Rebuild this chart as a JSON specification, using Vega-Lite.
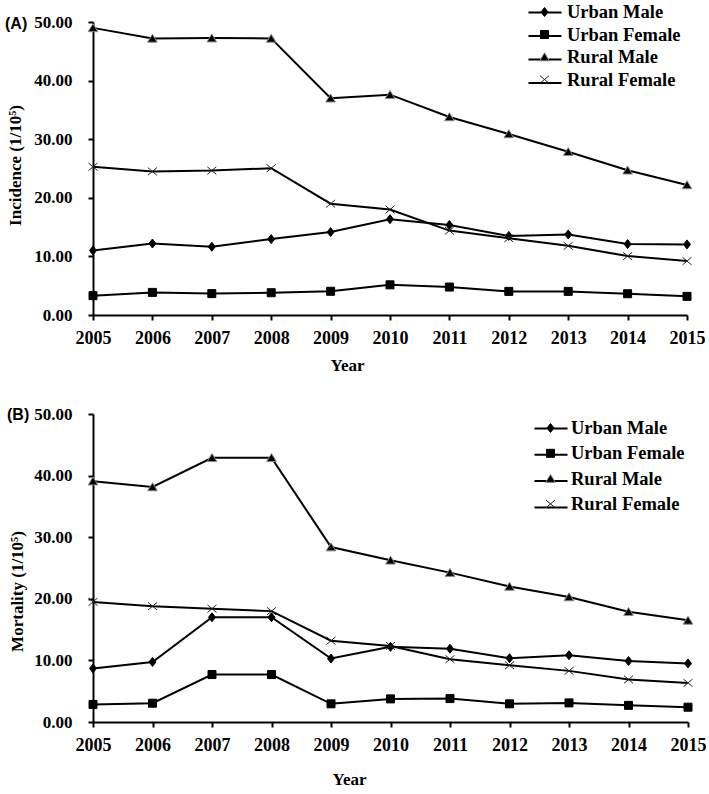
{
  "$schema": "https://vega.github.io/schema/vega-lite/v6.json",
  "background": "white",
  "padding": {"left": 5, "top": 1, "right": 0, "bottom": 0},
  "spacing": 32,
  "resolve": {"scale": {"shape": "independent", "stroke": "independent", "color": "independent"}, "legend": {"shape": "independent", "stroke": "independent", "color": "independent"}},
  "config": {
    "view": {"stroke": null},
    "axis": {
      "domainColor": "black", "domainWidth": 2, "tickColor": "black", "tickWidth": 2, "tickSize": 5,
      "grid": false, "labelColor": "black", "titleColor": "black",
      "labelFont": "Liberation Serif", "labelFontWeight": "bold",
      "titleFont": "Liberation Serif", "titleFontWeight": "bold", "titleFontSize": 17
    },
    "legend": {
      "orient": "none", "title": null, "padding": 0, "symbolSize": 400, "symbolOffset": 6, "labelOffset": 12,
      "labelFont": "Liberation Serif", "labelFontSize": 18.5, "labelFontWeight": "bold", "labelColor": "black",
      "symbolStrokeColor": "black", "symbolFillColor": "black", "symbolStrokeWidth": 1, "symbolOpacity": 1
    }
  },
  "datasets": {
    "incidence": [
      {"year": 2005, "group": "Urban Male", "value": 11.0},
      {"year": 2006, "group": "Urban Male", "value": 12.2},
      {"year": 2007, "group": "Urban Male", "value": 11.65},
      {"year": 2008, "group": "Urban Male", "value": 12.95},
      {"year": 2009, "group": "Urban Male", "value": 14.15},
      {"year": 2010, "group": "Urban Male", "value": 16.35},
      {"year": 2011, "group": "Urban Male", "value": 15.35},
      {"year": 2012, "group": "Urban Male", "value": 13.5},
      {"year": 2013, "group": "Urban Male", "value": 13.75},
      {"year": 2014, "group": "Urban Male", "value": 12.1},
      {"year": 2015, "group": "Urban Male", "value": 12.05},
      {"year": 2005, "group": "Urban Female", "value": 3.3},
      {"year": 2006, "group": "Urban Female", "value": 3.86},
      {"year": 2007, "group": "Urban Female", "value": 3.65},
      {"year": 2008, "group": "Urban Female", "value": 3.8},
      {"year": 2009, "group": "Urban Female", "value": 4.05},
      {"year": 2010, "group": "Urban Female", "value": 5.15},
      {"year": 2011, "group": "Urban Female", "value": 4.77},
      {"year": 2012, "group": "Urban Female", "value": 4.03},
      {"year": 2013, "group": "Urban Female", "value": 4.03},
      {"year": 2014, "group": "Urban Female", "value": 3.63},
      {"year": 2015, "group": "Urban Female", "value": 3.18},
      {"year": 2005, "group": "Rural Male", "value": 49.0},
      {"year": 2006, "group": "Rural Male", "value": 47.2},
      {"year": 2007, "group": "Rural Male", "value": 47.25},
      {"year": 2008, "group": "Rural Male", "value": 47.2},
      {"year": 2009, "group": "Rural Male", "value": 37.0},
      {"year": 2010, "group": "Rural Male", "value": 37.6},
      {"year": 2011, "group": "Rural Male", "value": 33.8},
      {"year": 2012, "group": "Rural Male", "value": 30.9},
      {"year": 2013, "group": "Rural Male", "value": 27.85},
      {"year": 2014, "group": "Rural Male", "value": 24.7},
      {"year": 2015, "group": "Rural Male", "value": 22.2},
      {"year": 2005, "group": "Rural Female", "value": 25.3},
      {"year": 2006, "group": "Rural Female", "value": 24.5},
      {"year": 2007, "group": "Rural Female", "value": 24.65},
      {"year": 2008, "group": "Rural Female", "value": 25.05},
      {"year": 2009, "group": "Rural Female", "value": 19.0},
      {"year": 2010, "group": "Rural Female", "value": 18.0},
      {"year": 2011, "group": "Rural Female", "value": 14.4},
      {"year": 2012, "group": "Rural Female", "value": 13.1},
      {"year": 2013, "group": "Rural Female", "value": 11.8},
      {"year": 2014, "group": "Rural Female", "value": 10.05},
      {"year": 2015, "group": "Rural Female", "value": 9.2}
    ],
    "mortality": [
      {"year": 2005, "group": "Urban Male", "value": 8.7},
      {"year": 2006, "group": "Urban Male", "value": 9.75},
      {"year": 2007, "group": "Urban Male", "value": 17.0},
      {"year": 2008, "group": "Urban Male", "value": 17.0},
      {"year": 2009, "group": "Urban Male", "value": 10.3},
      {"year": 2010, "group": "Urban Male", "value": 12.2},
      {"year": 2011, "group": "Urban Male", "value": 11.9},
      {"year": 2012, "group": "Urban Male", "value": 10.35},
      {"year": 2013, "group": "Urban Male", "value": 10.85},
      {"year": 2014, "group": "Urban Male", "value": 9.9},
      {"year": 2015, "group": "Urban Male", "value": 9.5},
      {"year": 2005, "group": "Urban Female", "value": 2.85},
      {"year": 2006, "group": "Urban Female", "value": 3.05},
      {"year": 2007, "group": "Urban Female", "value": 7.7},
      {"year": 2008, "group": "Urban Female", "value": 7.7},
      {"year": 2009, "group": "Urban Female", "value": 2.95},
      {"year": 2010, "group": "Urban Female", "value": 3.75},
      {"year": 2011, "group": "Urban Female", "value": 3.8},
      {"year": 2012, "group": "Urban Female", "value": 2.95},
      {"year": 2013, "group": "Urban Female", "value": 3.1},
      {"year": 2014, "group": "Urban Female", "value": 2.7},
      {"year": 2015, "group": "Urban Female", "value": 2.4},
      {"year": 2005, "group": "Rural Male", "value": 39.1},
      {"year": 2006, "group": "Rural Male", "value": 38.15},
      {"year": 2007, "group": "Rural Male", "value": 42.9},
      {"year": 2008, "group": "Rural Male", "value": 42.9},
      {"year": 2009, "group": "Rural Male", "value": 28.4},
      {"year": 2010, "group": "Rural Male", "value": 26.25},
      {"year": 2011, "group": "Rural Male", "value": 24.25},
      {"year": 2012, "group": "Rural Male", "value": 22.0},
      {"year": 2013, "group": "Rural Male", "value": 20.3},
      {"year": 2014, "group": "Rural Male", "value": 17.9},
      {"year": 2015, "group": "Rural Male", "value": 16.5},
      {"year": 2005, "group": "Rural Female", "value": 19.5},
      {"year": 2006, "group": "Rural Female", "value": 18.8},
      {"year": 2007, "group": "Rural Female", "value": 18.4},
      {"year": 2008, "group": "Rural Female", "value": 18.0},
      {"year": 2009, "group": "Rural Female", "value": 13.2},
      {"year": 2010, "group": "Rural Female", "value": 12.35},
      {"year": 2011, "group": "Rural Female", "value": 10.2},
      {"year": 2012, "group": "Rural Female", "value": 9.2},
      {"year": 2013, "group": "Rural Female", "value": 8.3},
      {"year": 2014, "group": "Rural Female", "value": 6.9},
      {"year": 2015, "group": "Rural Female", "value": 6.35}
    ]
  },
  "vconcat": [
    {
      "data": {"name": "incidence"},
      "width": 594,
      "height": 293,
      "title": {"text": "(A)", "anchor": "start", "frame": "group", "orient": "top", "offset": 0, "baseline": "middle", "font": "Liberation Sans", "fontSize": 16, "fontWeight": "bold", "color": "black", "dx": -88, "dy": 38},
      "encoding": {
        "x": {"field": "year", "type": "ordinal", "scale": {"type": "point", "padding": 0},
          "axis": {"title": "Year", "labelAngle": 0, "labelFontSize": 18, "labelPadding": 9, "titleX": 254, "titleY": 50, "titleBaseline": "middle", "titleAlign": "center"}},
        "y": {"field": "value", "type": "quantitative", "scale": {"domain": [0, 50]},
          "axis": {"title": "Incidence (1/10⁵)", "values": [0, 10, 20, 30, 40, 50], "format": ".2f", "labelFontSize": 17, "labelPadding": 16, "titleX": -78, "titleY": 143, "titleBaseline": "middle", "titleAlign": "center", "titleAngle": -90}}
      },
      "layer": [
        {"mark": {"type": "line", "strokeWidth": 2},
          "encoding": {"color": {"field": "group", "type": "nominal", "scale": {"range": ["black"]},
            "legend": {"legendX": 435, "legendY": -20.5, "rowPadding": 2.5, "symbolType": "M-1.65,0H1.65", "symbolStrokeWidth": 2, "symbolStrokeColor": "black", "labelOpacity": 0}}}},
        {"mark": {"type": "point", "filled": true, "opacity": 1, "size": 400, "strokeWidth": 1},
          "encoding": {
            "fill": {"value": "black"},
            "stroke": {"field": "group", "type": "nominal", "scale": {"domain": ["Urban Male", "Urban Female", "Rural Male", "Rural Female"], "range": ["black", "black", "#8a8a8a", "#222222"]}, "legend": null},
            "shape": {"field": "group", "type": "nominal",
              "scale": {"domain": ["Urban Male", "Urban Female", "Rural Male", "Rural Female"],
                "range": ["M0,-0.45L0.35,0L0,0.45L-0.35,0Z", "M-0.4,-0.4H0.4V0.4H-0.4Z", "M0,-0.42L0.48,0.38H-0.48Z", "M-0.45,-0.38L0.45,0.38M-0.45,0.38L0.45,-0.38"]},
              "legend": {"legendX": 435, "legendY": -20.5, "rowPadding": 2.5}}
          }}
      ]
    },
    {
      "data": {"name": "mortality"},
      "width": 595,
      "height": 308,
      "title": {"text": "(B)", "anchor": "start", "frame": "group", "orient": "top", "offset": 0, "baseline": "middle", "font": "Liberation Sans", "fontSize": 16, "fontWeight": "bold", "color": "black", "dx": -86, "dy": 26},
      "encoding": {
        "x": {"field": "year", "type": "ordinal", "scale": {"type": "point", "padding": 0},
          "axis": {"title": "Year", "labelAngle": 0, "labelFontSize": 18, "labelPadding": 9, "titleX": 256, "titleY": 57, "titleBaseline": "middle", "titleAlign": "center"}},
        "y": {"field": "value", "type": "quantitative", "scale": {"domain": [0, 50]},
          "axis": {"title": "Mortality (1/10⁵)", "values": [0, 10, 20, 30, 40, 50], "format": ".2f", "labelFontSize": 17, "labelPadding": 16, "titleX": -76, "titleY": 177, "titleBaseline": "middle", "titleAlign": "center", "titleAngle": -90}}
      },
      "layer": [
        {"mark": {"type": "line", "strokeWidth": 2},
          "encoding": {"color": {"field": "group", "type": "nominal", "scale": {"range": ["black"]},
            "legend": {"legendX": 441, "legendY": 3.5, "rowPadding": 5.3, "labelOffset": 10, "symbolType": "M-1.65,0H1.65", "symbolStrokeWidth": 2, "symbolStrokeColor": "black", "labelOpacity": 0}}}},
        {"mark": {"type": "point", "filled": true, "opacity": 1, "size": 400, "strokeWidth": 1},
          "encoding": {
            "fill": {"value": "black"},
            "stroke": {"field": "group", "type": "nominal", "scale": {"domain": ["Urban Male", "Urban Female", "Rural Male", "Rural Female"], "range": ["black", "black", "#8a8a8a", "#222222"]}, "legend": null},
            "shape": {"field": "group", "type": "nominal",
              "scale": {"domain": ["Urban Male", "Urban Female", "Rural Male", "Rural Female"],
                "range": ["M0,-0.45L0.35,0L0,0.45L-0.35,0Z", "M-0.4,-0.4H0.4V0.4H-0.4Z", "M0,-0.42L0.48,0.38H-0.48Z", "M-0.45,-0.38L0.45,0.38M-0.45,0.38L0.45,-0.38"]},
              "legend": {"legendX": 441, "legendY": 3.5, "rowPadding": 5.3, "labelOffset": 10}}
          }}
      ]
    }
  ]
}
